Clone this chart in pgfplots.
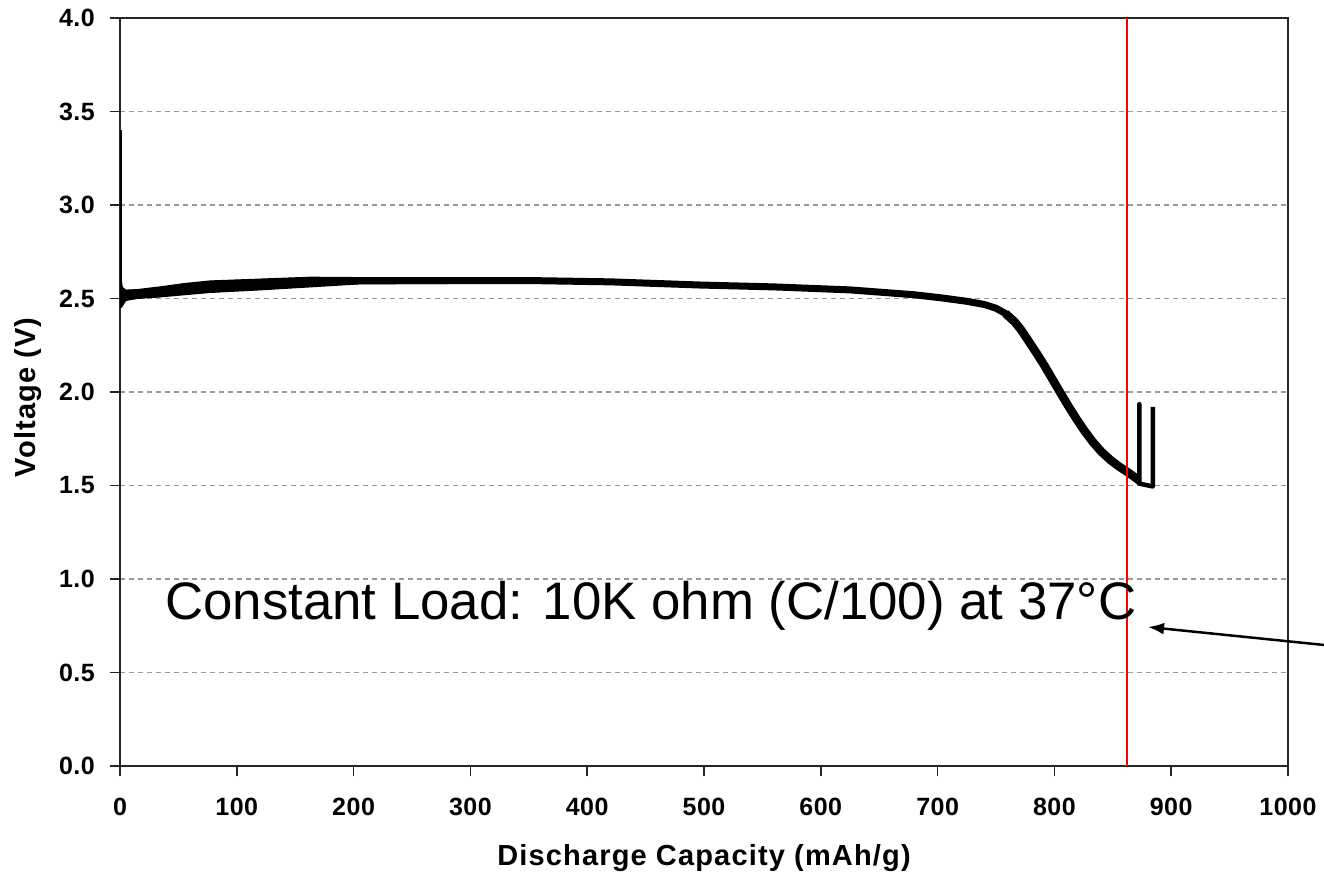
\documentclass[border=0pt]{standalone}
\usepackage{fontspec}
\setmainfont{Liberation Sans}
\usepackage{pgfplots}
\pgfplotsset{compat=1.18}
\usetikzlibrary{arrows.meta}
\newfontfamily\tickfont[LetterSpace=2]{Liberation Sans}
\newfontfamily\labfont[LetterSpace=4]{Liberation Sans}
\begin{document}
\begin{tikzpicture}
\begin{axis}[
  at={(120pt,107pt)}, anchor=south west,
  scale only axis, width=1168pt, height=748pt,
  xmin=0, xmax=1000, ymin=0, ymax=4,
  xtick={0,100,...,1000}, ytick={0,0.5,...,4},
  tick align=outside, xtick pos=bottom, ytick pos=left,
  major tick length=10pt,
  tick style={line width=1.5pt, black!85},
  axis line style={line width=1.5pt, black!85},
  ymajorgrids,
  major grid style={line width=1.5pt, black!40, dash pattern=on 4.5pt off 4.5pt},
  /pgf/number format/assume math mode=true,
  /pgf/number format/1000 sep={},
  ticklabel style={font=\tickfont\bfseries\fontsize{25}{29}\selectfont, inner sep=0pt},
  yticklabel style={/pgf/number format/fixed, /pgf/number format/fixed zerofill, /pgf/number format/precision=1, xshift=-15pt},
  xticklabel style={yshift=-22pt},
  xlabel={Discharge Capacity (mAh/g)},
  ylabel={Voltage (V)},
  xlabel style={font=\labfont\bfseries\fontsize{29}{33}\selectfont, at={(axis description cs:0.5,0)}, anchor=base, yshift=-99pt},
  ylabel style={font=\labfont\bfseries\fontsize{29}{33}\selectfont, at={(axis description cs:-0.0788,0.493)}, anchor=center},
]
% thick band envelope on the plateau (upper, then lower reversed)
\addplot[fill=black, draw=black, line width=1pt, line join=round] coordinates {
 (0.5,2.62) (2,2.56) (5,2.545) (15,2.548) (34,2.562) (55,2.58) (77,2.594) (120,2.604) (163,2.614) (205,2.612) (277,2.61) (330,2.607)
 (330,2.583) (277,2.58) (205,2.578) (163,2.562) (120,2.546) (77,2.532) (55,2.52) (34,2.508) (15,2.50) (5,2.49) (2,2.46) (0.5,2.45)
} -- cycle;
% centre of the discharge curve
\addplot[black, line width=7pt, line join=round] coordinates {
 (2,2.50) (8,2.512) (15,2.52) (34,2.535) (55,2.55) (77,2.564) (120,2.576) (163,2.588) (205,2.595)
 (277,2.595) (350,2.596) (420,2.589) (497,2.572) (560,2.562) (625,2.546) (680,2.52)
 (705,2.502) (725,2.485) (740,2.468) (750,2.448) (758,2.42) (766,2.375)
};
% steep part, a little wider
\addplot[black, line width=8.5pt, line join=round] coordinates {
 (758,2.42) (766,2.375) (771,2.336) (776,2.29) (783,2.224) (790,2.156) (797,2.082) (805,1.997) (812,1.924) (819,1.855)
 (826,1.79) (833,1.732) (840,1.682) (848,1.636) (855,1.603) (862,1.574) (868,1.548) (872,1.53)
};
% initial voltage spike
\addplot[black, line width=2pt] coordinates {(0.5,3.40) (0.5,2.46)};
% end spikes
\addplot[black, line width=4.5pt, line join=round] coordinates {
 (868,1.54) (872.7,1.51) (872.7,1.935) (872.7,1.51) (884.2,1.495) (884.2,1.92)
};
% red marker line
\addplot[red, line width=2pt] coordinates {(862,0) (862,4)};
\end{axis}
\node[anchor=base west, inner sep=0pt, font=\fontsize{52.8}{60}\selectfont] at (165pt,253pt) {Constant Load: 10K ohm (C/100) at 37°C};
\draw[line width=2.5pt, -{Latex[length=16pt,width=12pt]}] (1340pt,226.4pt) -- (1148pt,246pt);
\pgfresetboundingbox
\path[use as bounding box] (0,0) rectangle (1324pt,873pt);
\end{tikzpicture}
\end{document}
